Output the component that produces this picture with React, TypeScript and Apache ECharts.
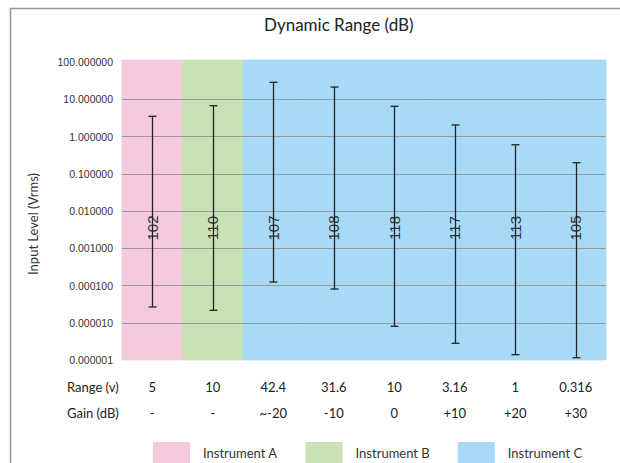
import React, { useEffect, useRef } from 'react';
import * as echarts from 'echarts';

const ranges = ['5', '10', '42.4', '31.6', '10', '3.16', '1', '0.316'];
const gains = ['-', '-', '~-20', '-10', '0', '+10', '+20', '+30'];
const dynamicRange = [102, 110, 107, 108, 118, 117, 113, 105];
const topLevel = [3.48, 6.7, 28.5, 21.3, 6.47, 2.04, 0.6, 0.198];
const bottomLevel = [2.65e-5, 2.16e-5, 1.24e-4, 8.05e-5, 8.03e-6, 2.81e-6, 1.39e-6, 1.15e-6];
const instruments = ['Instrument A', 'Instrument B', 'Instrument C'];
const instrumentColors = ['#F5CADF', '#C8E2B4', '#A7DAF7'];
const instrumentOf = [0, 1, 2, 2, 2, 2, 2, 2];
const labelLevel = 0.0035;

const LATO = 'Lato, "Noto Sans", sans-serif';
const ARIAL = '"Liberation Sans", Arial, sans-serif';

export default function App() {
  const ref = useRef<HTMLDivElement>(null);
  useEffect(() => {
    document.body.style.margin = '0';
    const chart = echarts.init(ref.current!, null, { renderer: 'svg' });

    const bandSeries = instruments.map((name, k) => ({
      name,
      type: 'custom',
      z: -1,
      silent: true,
      itemStyle: { color: instrumentColors[k] },
      encode: { x: 0, y: 1 },
      data: instrumentOf
        .map((inst, i) => (inst === k ? [i, 1] : null))
        .filter((d) => d !== null),
      renderItem: (params: any, api: any) => {
        const cs = params.coordSys;
        const w = cs.width / ranges.length;
        const cx = api.coord([api.value(0), 1])[0];
        return {
          type: 'rect',
          shape: { x: cx - w / 2, y: cs.y - 2, width: w, height: cs.height + 2 },
          style: { fill: instrumentColors[k], stroke: instrumentColors[k], lineWidth: 0.8 },
        };
      },
    }));

    const errorSeries = {
      name: 'range',
      type: 'custom',
      z: 5,
      encode: { x: 0, y: [1, 2] },
      data: ranges.map((_, i) => [i, bottomLevel[i], topLevel[i], dynamicRange[i]]),
      renderItem: (params: any, api: any) => {
        const i = api.value(0);
        const lo = api.coord([i, api.value(1)]);
        const hi = api.coord([i, api.value(2)]);
        const lab = api.coord([i, labelLevel]);
        const x = Math.round(lo[0]) + 0.5;
        const cap = 4;
        const stroke = { stroke: '#222', lineWidth: 1.3 };
        return {
          type: 'group',
          children: [
            {
              type: 'text',
              x: lab[0],
              y: lab[1],
              rotation: Math.PI / 2,
              style: {
                text: String(api.value(3)),
                fontSize: 15,
                fontFamily: ARIAL,
                fill: '#333',
                align: 'center',
                verticalAlign: 'middle',
              },
            },
            { type: 'line', shape: { x1: x, y1: lo[1], x2: x, y2: hi[1] }, style: stroke },
            { type: 'line', shape: { x1: x - cap, y1: lo[1], x2: x + cap, y2: lo[1] }, style: stroke },
            { type: 'line', shape: { x1: x - cap, y1: hi[1], x2: x + cap, y2: hi[1] }, style: stroke },
          ],
        };
      },
    };

    chart.setOption({
      animation: false,
      title: {
        text: 'Dynamic Range (dB)',
        left: 264,
        top: 16,
        padding: 0,
        textStyle: { fontFamily: LATO, fontSize: 17, fontWeight: 'normal', color: '#222' },
      },
      grid: { left: 122, right: 14, top: 62, bottom: 103 },
      legend: {
        data: instruments,
        left: 153,
        top: 442,
        padding: 0,
        icon: 'rect',
        itemWidth: 37,
        itemHeight: 21,
        itemGap: 28,
        selectedMode: false,
        textStyle: { fontFamily: LATO, fontSize: 13, color: '#333', padding: [0, 0, 0, 8] },
      },
      xAxis: {
        type: 'category',
        data: ranges,
        axisLine: { show: false },
        axisTick: { show: false },
        splitLine: { show: false },
        axisLabel: {
          margin: 14,
          interval: 0,
          formatter: (v: string, idx: number) => `{r|${v}}\n{g|${gains[idx]}}`,
          rich: {
            r: { fontFamily: LATO, fontSize: 13, color: '#222', lineHeight: 26 },
            g: { fontFamily: LATO, fontSize: 13, color: '#222', lineHeight: 26 },
          },
        },
      },
      yAxis: {
        type: 'log',
        logBase: 10,
        min: 1e-6,
        max: 100,
        interval: 1,
        axisLine: { show: false },
        axisTick: { show: false },
        splitLine: {
          show: true,
          showMinLine: false,
          showMaxLine: false,
          lineStyle: { color: '#999', width: 1 },
        },
        axisLabel: {
          margin: 9,
          fontFamily: ARIAL,
          fontSize: 10.5,
          color: '#333',
          padding: [4, 0, 0, 0],
          formatter: (v: number) => v.toFixed(6),
        },
      },
      graphic: [
        {
          type: 'rect',
          silent: true,
          shape: { x: 10.5, y: 8.5, width: 700, height: 600 },
          style: { fill: 'none', stroke: '#999', lineWidth: 1.5 },
        },
        {
          type: 'text',
          x: 33,
          y: 224,
          rotation: Math.PI / 2,
          style: {
            text: 'Input Level (Vrms)',
            fontFamily: LATO,
            fontSize: 13,
            fill: '#333',
            align: 'center',
            verticalAlign: 'middle',
          },
        },
        {
          type: 'text',
          x: 67,
          y: 387,
          style: { text: 'Range (v)', fontFamily: LATO, fontSize: 13, fill: '#222', verticalAlign: 'middle' },
        },
        {
          type: 'text',
          x: 67,
          y: 413,
          style: { text: 'Gain (dB)', fontFamily: LATO, fontSize: 13, fill: '#222', verticalAlign: 'middle' },
        },
      ],
      series: [...bandSeries, errorSeries],
    });
    return () => chart.dispose();
  }, []);
  return <div ref={ref} style={{ width: 620, height: 463 }} />;
}
